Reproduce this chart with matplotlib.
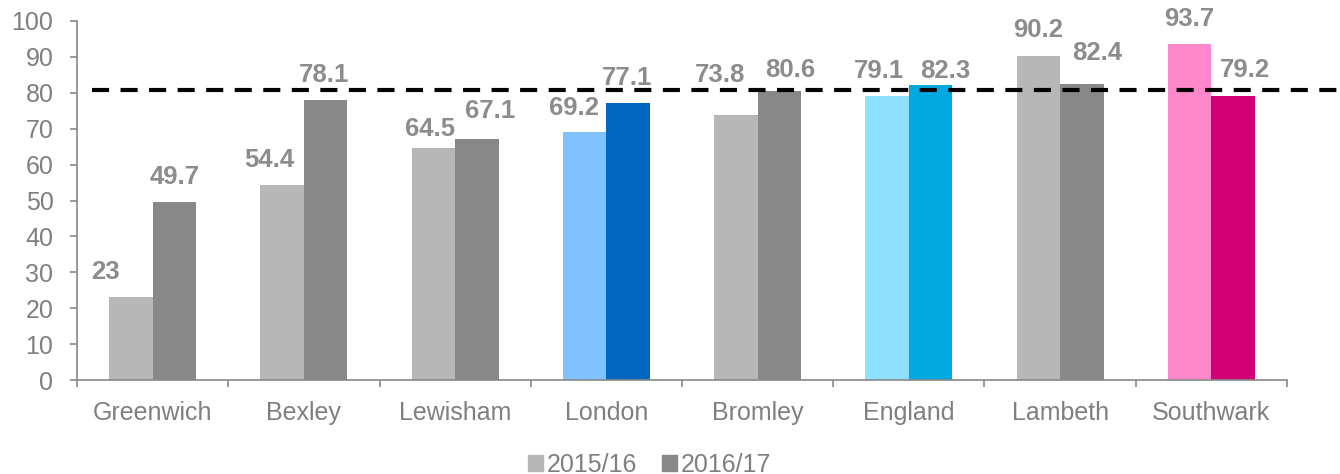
import numpy as np
import matplotlib.pyplot as plt

areas = ["Greenwich", "Bexley", "Lewisham", "London", "Bromley", "England", "Lambeth", "Southwark"]
vals_1516 = [23, 54.4, 64.5, 69.2, 73.8, 79.1, 90.2, 93.7]
vals_1617 = [49.7, 78.1, 67.1, 77.1, 80.6, 82.3, 82.4, 79.2]
target = 80.9

# the value labels were nudged by hand in the original: (dx, gap) in pixels
nudge_1516 = [(-25, 18), (-13, 18), (-3, 12), (-11, 17), (-16, 33), (-8, 18), (0, 19), (0, 18)]
nudge_1617 = [(0, 18), (-2, 18), (13, 21), (-1, 18), (11, 14), (15, 7), (15, 24), (12, 19)]

# default greys, with highlight colours for London, England and Southwark
light = ["#b7b7b7"] * 8
dark = ["#888888"] * 8
light[3], dark[3] = "#80c1ff", "#0066c0"
light[5], dark[5] = "#8de1ff", "#00a9e0"
light[7], dark[7] = "#ff88cc", "#d10074"

grey_txt = "#7f7f7f"
fs = 18

fig = plt.figure(figsize=(13.4, 4.74), dpi=100)
ax = fig.add_axes([0.0575, 0.1983, 0.9029, 0.7574])

x = np.arange(len(areas))
w = 0.288
b1 = ax.bar(x - w / 2, vals_1516, w, color=light, label="2015/16")
b2 = ax.bar(x + w / 2, vals_1617, w, color=dark, label="2016/17")

px = 72 / fig.dpi
for bars, vals, nudges in ((b1, vals_1516, nudge_1516), (b2, vals_1617, nudge_1617)):
    for r, v, (dx, gap) in zip(bars, vals, nudges):
        ax.annotate(f"{v:g}", (r.get_x() + r.get_width() / 2, v),
                    xytext=(dx * px, gap * px), textcoords="offset points",
                    ha="center", va="baseline", fontsize=18.5,
                    fontweight="bold", color="#8c8c8c",
                    family="Liberation Sans")

# target line runs past the end of the axis, as in the original
ax.plot([0.012, 1.045], [target, target], color="black", lw=3,
        dashes=(4.1, 2.75), transform=ax.get_yaxis_transform(), clip_on=False)

ax.set_xlim(-0.5, len(areas) - 0.5)
ax.set_ylim(0, 100)
ax.set_yticks(range(0, 101, 10))
ax.set_xticks(x)
ax.set_xticklabels(areas)
ax.set_xticks(np.arange(-0.5, len(areas)), minor=True)
ax.tick_params(axis="x", which="major", length=0, pad=15)
ax.tick_params(axis="x", which="minor", length=5, color="#888888", width=1.2)
ax.tick_params(axis="y", length=5, color="#888888", width=1.2, pad=12)
for lab in ax.get_xticklabels() + ax.get_yticklabels():
    lab.set_fontsize(fs)
    lab.set_color(grey_txt)
    lab.set_family("Liberation Sans")

for s in ["top", "right"]:
    ax.spines[s].set_visible(False)
for s in ["left", "bottom"]:
    ax.spines[s].set_color("#888888")
    ax.spines[s].set_linewidth(1.2)

handles = [plt.Rectangle((0, 0), 1, 1, color="#b7b7b7"),
           plt.Rectangle((0, 0), 1, 1, color="#888888")]
leg = fig.legend(handles, ["2015/16", "2016/17"], loc="center",
                 bbox_to_anchor=(0.485, 0.02), ncol=2, frameon=False,
                 prop={"family": "Liberation Sans", "size": fs},
                 handlelength=0.6, handleheight=0.6, handletextpad=0.15,
                 columnspacing=1.0, borderpad=0)
for t in leg.get_texts():
    t.set_color(grey_txt)

fig.savefig("out.png", dpi=100)
